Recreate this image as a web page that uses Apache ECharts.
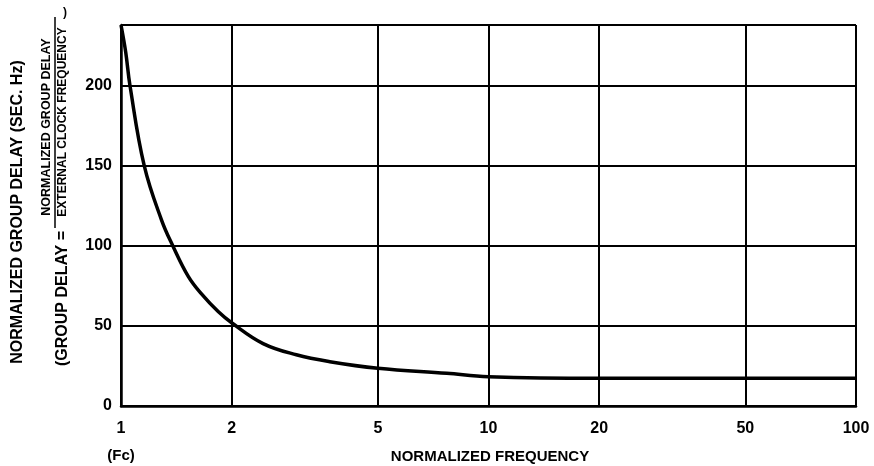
<!DOCTYPE html>
<html>
<head>
<meta charset="utf-8">
<script src="https://cdn.jsdelivr.net/npm/echarts@6/dist/echarts.min.js"></script>
<style>
html,body{margin:0;padding:0;background:#fff;}
#chart{width:874px;height:466px;}
</style>
</head>
<body>
<div id="chart"></div>
<script>
// Data
var frequency = [1.0, 1.03, 1.058, 1.157, 1.29, 1.384, 1.524, 1.656, 1.838, 2.0, 2.436, 3.0, 3.7, 5.0, 7.7, 10, 20, 50, 100];
var groupDelay = [238, 221, 200, 150, 116, 100, 81, 70, 59, 52, 39, 32, 27.7, 23.6, 20.4, 18.3, 17.3, 17.3, 17.3];
var xTicks = [1, 2, 5, 10, 20, 50, 100];
var yTicks = [0, 50, 100, 150, 200];
var xTitle = 'NORMALIZED FREQUENCY';
var yTitle = 'NORMALIZED GROUP DELAY (SEC. Hz)';
var yFormulaLead = '(GROUP DELAY =';
var yFormulaNum = 'NORMALIZED GROUP DELAY';
var yFormulaDen = 'EXTERNAL CLOCK FREQUENCY';
var xNote = '(Fc)';

var FONT = '"Liberation Sans", Arial, Helvetica, sans-serif';
var chart = echarts.init(document.getElementById('chart'), null, {renderer: 'canvas'});
var pts = frequency.map(function (f, i) { return [f, groupDelay[i]]; });

chart.setOption({
  animation: false,
  backgroundColor: '#fff',
  grid: {left: 121, right: 18, top: 25, bottom: 60, containLabel: false},
  xAxis: {
    type: 'log', logBase: 10, min: 1, max: 100,
    axisLine: {show: true, lineStyle: {color: '#000', width: 2.5}},
    axisTick: {show: false, customValues: xTicks},
    axisLabel: {customValues: xTicks, color: '#000', fontSize: 16, fontWeight: 'bold', fontFamily: FONT, margin: 15,
      formatter: function (v) { return String(Math.round(v)); }},
    splitLine: {show: true, lineStyle: {color: '#000', width: 2}},
    minorSplitLine: {show: false}
  },
  yAxis: {
    type: 'value', min: 0, max: 238, interval: 50,
    axisLine: {show: true, lineStyle: {color: '#000', width: 2.5}},
    axisTick: {show: false},
    axisLabel: {color: '#000', fontSize: 16, fontWeight: 'bold', fontFamily: FONT, margin: 9, showMaxLabel: false,
      formatter: function (v) { return yTicks.indexOf(v) >= 0 ? String(v) : ''; }},
    splitLine: {show: true, lineStyle: {color: '#000', width: 2}}
  },
  series: [{
    type: 'line',
    data: pts,
    smooth: 0.4,
    showSymbol: false,
    lineStyle: {color: '#000', width: 3.5},
    z: 5
  }],
  graphic: [
    {type: 'text', x: 18, y: 212, rotation: Math.PI / 2,
      style: {text: yTitle, fill: '#000', font: 'bold 16px ' + FONT, textAlign: 'center', textVerticalAlign: 'middle'}},
    {type: 'text', x: 63, y: 231, rotation: Math.PI / 2,
      style: {text: yFormulaLead, fill: '#000', font: 'bold 16px ' + FONT, textAlign: 'right', textVerticalAlign: 'middle'}},
    {type: 'text', x: 47, y: 127, rotation: Math.PI / 2,
      style: {text: yFormulaNum, fill: '#000', font: 'bold 12.5px ' + FONT, textAlign: 'center', textVerticalAlign: 'middle'}},
    {type: 'line', shape: {x1: 55, y1: 17, x2: 55, y2: 228}, style: {stroke: '#000', lineWidth: 1.5}},
    {type: 'text', x: 63, y: 122, rotation: Math.PI / 2,
      style: {text: yFormulaDen, fill: '#000', font: 'bold 12px ' + FONT, textAlign: 'center', textVerticalAlign: 'middle'}},
    {type: 'text', x: 65, y: 13,
      style: {text: ')', fill: '#000', font: 'bold 12px ' + FONT, textAlign: 'center', textVerticalAlign: 'middle'}},
    {type: 'text', x: 121, y: 456,
      style: {text: xNote, fill: '#000', font: 'bold 15px ' + FONT, textAlign: 'center', textVerticalAlign: 'middle'}},
    {type: 'text', x: 490, y: 457,
      style: {text: xTitle, fill: '#000', font: 'bold 15px ' + FONT, textAlign: 'center', textVerticalAlign: 'middle'}}
  ]
});
</script>
</body>
</html>
